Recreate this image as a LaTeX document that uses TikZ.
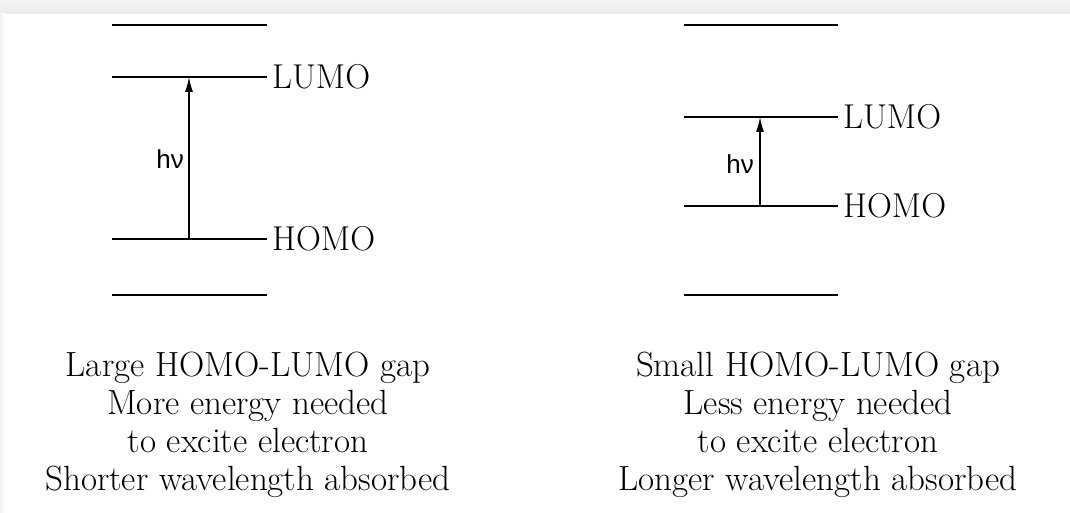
\documentclass[tikz,border=0pt]{standalone}
\usepackage{fontspec}
\newfontfamily\hvfont{Liberation Sans}
\usetikzlibrary{arrows.meta}
\definecolor{bandtop}{HTML}{F6F6F6}
\definecolor{bandbot}{HTML}{E9E9E9}
\definecolor{edgegray}{HTML}{F3F3F3}
\tikzset{
  level/.style={line width=1.3pt, black},
  excite/.style={line width=1.3pt, -{Latex[length=15pt,width=8pt]}},
  orbital/.style={anchor=west, inner sep=0pt, font=\fontsize{34.5}{36}\selectfont},
  hvlabel/.style={anchor=east, inner sep=0pt, font=\hvfont\fontsize{26}{28}\selectfont},
  caption/.style={anchor=north, inner sep=0pt, align=center, font=\fontsize{35}{37.8}\selectfont}
}
\begin{document}
\begin{tikzpicture}[x=1pt,y=-1pt]
\useasboundingbox (0,0) rectangle (1070,513);
\fill[white] (0,0) rectangle (1070,513);
\shade[top color=bandtop, bottom color=bandbot] (0,0) rectangle (1070,14);
\shade[left color=edgegray, right color=white] (0,14) rectangle (5,513);

% left diagram
\draw[level] (112,25) -- (267,25);
\draw[level] (112,77) -- (267,77) coordinate (lumoL);
\draw[level] (112,239) -- (267,239) coordinate (homoL);
\draw[level] (112,295) -- (267,295);
\coordinate (aLtop) at (189,77);
\coordinate (aLbot) at (189,239);
\draw[excite] (aLbot) -- (aLtop);
\node[orbital] (lumoLtxt) at ([xshift=5pt]lumoL) {LUMO};
\node[orbital] (homoLtxt) at ([xshift=5pt]homoL) {HOMO};
\node[hvlabel] (hvL) at (184,159) {hν};

% right diagram
\draw[level] (684,25) -- (838,25);
\draw[level] (684,117) -- (838,117) coordinate (lumoR);
\draw[level] (684,206) -- (838,206) coordinate (homoR);
\draw[level] (684,295) -- (838,295);
\coordinate (aRtop) at (760,117);
\coordinate (aRbot) at (760,206);
\draw[excite] (aRbot) -- (aRtop);
\node[orbital] (lumoRtxt) at ([xshift=5pt]lumoR) {LUMO};
\node[orbital] (homoRtxt) at ([xshift=5pt]homoR) {HOMO};
\node[hvlabel] (hvR) at (754,164) {hν};

% captions
\node[caption] (capL) at (248,352) {Large HOMO-LUMO gap\\More energy needed\\to excite electron\\Shorter wavelength absorbed};
\node[caption] (capR) at (818,352) {Small HOMO-LUMO gap\\Less energy needed\\to excite electron\\Longer wavelength absorbed};
\end{tikzpicture}
\end{document}
